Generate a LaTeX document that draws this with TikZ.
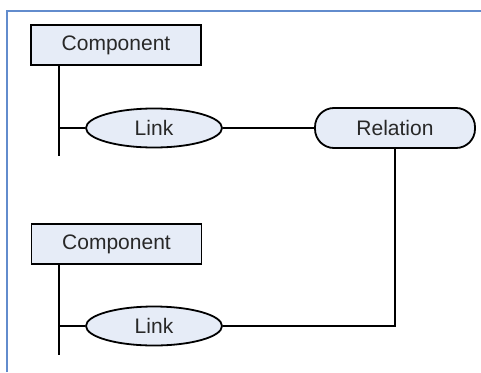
\documentclass[tikz,border=0pt]{standalone}
\usepackage{fontspec}
\setmainfont{Liberation Sans}
\usetikzlibrary{shapes.geometric}
\definecolor{boxfill}{RGB}{230,236,247}
\definecolor{framecol}{RGB}{98,140,205}
\definecolor{textcol}{RGB}{40,40,40}
\begin{document}
\begin{tikzpicture}[x=1pt,y=-1pt,line width=1.8pt,
    comp/.style={draw,fill=boxfill,text=textcol,minimum width=170pt,minimum height=40pt,inner sep=0pt,font=\fontsize{21}{24}\selectfont},
    link/.style={draw,fill=boxfill,text=textcol,ellipse,minimum width=136pt,minimum height=39pt,inner sep=0pt,font=\fontsize{21}{24}\selectfont},
    rel/.style={draw,fill=boxfill,text=textcol,rounded corners=19pt,minimum width=160pt,minimum height=40pt,inner sep=0pt,font=\fontsize{21}{24}\selectfont}]
  \useasboundingbox (0,0) rectangle (481,372);
  \draw[framecol,line width=2pt] (7,372) -- (7,11) -- (481,11);
  \node[comp] (c1) at (116,45) {Component};
  \node[link] (l1) at (154,128) {Link};
  \node[rel] (r) at (395,128) {Relation};
  \node[comp] (c2) at (116.5,244) {Component};
  \node[link] (l2) at (154,326) {Link};
  \coordinate (e1) at (59,156);
  \coordinate (e2) at (59,355);
  \draw (c1.south -| e1) -- (e1);
  \draw (e1 |- l1) -- (l1.west);
  \draw (l1) -- (r);
  \draw (c2.south -| e2) -- (e2);
  \draw (e2 |- l2) -- (l2.west);
  \draw (r.south) |- (l2.east);
\end{tikzpicture}
\end{document}
